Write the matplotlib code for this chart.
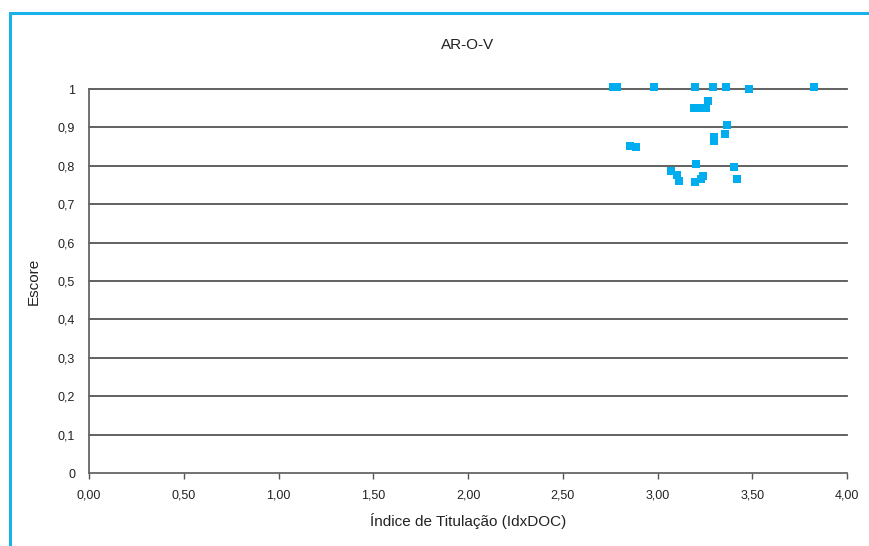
import matplotlib
matplotlib.use('Agg')
import matplotlib.pyplot as plt
from matplotlib.patches import Rectangle
from matplotlib.ticker import FuncFormatter

plt.rcParams['font.family'] = ['Liberation Sans Narrow', 'Liberation Sans', 'DejaVu Sans']

# IdxDOC vs score
idx_doc = [2.765, 2.786, 2.983, 3.200, 3.295, 3.363, 3.485, 3.828,
           3.268, 3.194, 3.236, 3.256, 3.368, 3.358, 3.300, 3.300,
           2.857, 2.888, 3.205, 3.405, 3.073, 3.104, 3.115, 3.238,
           3.231, 3.200, 3.421]
escore = [1.004, 1.004, 1.004, 1.004, 1.004, 1.004, 1.001, 1.004,
          0.968, 0.950, 0.950, 0.950, 0.905, 0.882, 0.874, 0.865,
          0.851, 0.848, 0.804, 0.796, 0.786, 0.775, 0.760, 0.773,
          0.766, 0.757, 0.765]

xticks = [0, 0.5, 1.0, 1.5, 2.0, 2.5, 3.0, 3.5, 4.0]
yticks = [0, 0.1, 0.2, 0.3, 0.4, 0.5, 0.6, 0.7, 0.8, 0.9, 1.0]

fig = plt.figure(figsize=(8.69, 5.46), dpi=100)
ax = fig.add_axes([89/869, 73/546, 758/869, 384/546])

# cyan frame
fig.patches.append(Rectangle((10/869, -0.05), 1.0, (546 - 12.5)/546 + 0.05,
                             transform=fig.transFigure, fill=False,
                             edgecolor='#1ab0ea', linewidth=2.2))

for y in yticks[1:]:
    ax.axhline(y, color='#555555', linewidth=1.3, zorder=1, clip_on=False)

ax.scatter(idx_doc, escore, marker='s', s=32, color='#00aeef',
           linewidths=0, zorder=3, clip_on=False)

ax.set_xlim(0, 4)
ax.set_ylim(0, 1)
ax.set_xticks(xticks)
ax.set_yticks(yticks)
ax.xaxis.set_major_formatter(FuncFormatter(lambda v, p: ('%.2f' % v).replace('.', ',')))
ax.yaxis.set_major_formatter(FuncFormatter(lambda v, p: '0' if v == 0 else ('1' if v == 1 else ('%.1f' % v).replace('.', ','))))
ax.tick_params(axis='x', length=4, width=1, color='#555555', labelsize=9, pad=8, labelcolor='#222222')
ax.tick_params(axis='y', length=0, labelsize=9, pad=10, labelcolor='#222222')

for s in ['top', 'right']:
    ax.spines[s].set_visible(False)
for s in ['left', 'bottom']:
    ax.spines[s].set_color('#666666')
    ax.spines[s].set_linewidth(1.3)

ax.set_title('AR-O-V', fontsize=11, pad=29, color='#222222')
ax.set_xlabel('Índice de Titulação (IdxDOC)', fontsize=11, labelpad=8, color='#222222')
ax.set_ylabel('Escore', fontsize=11, labelpad=12, color='#222222')

plt.savefig('out.png', dpi=100)
